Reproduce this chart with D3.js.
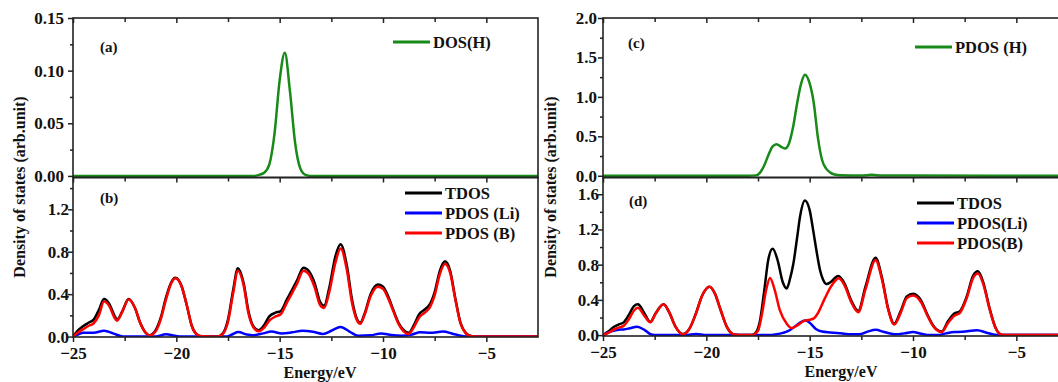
<!DOCTYPE html>
<html>
<head>
<meta charset="utf-8">
<script src="https://cdn.jsdelivr.net/npm/d3@7"></script>
<style>
  body { margin: 0; background: #fff; }
  svg { display: block; font-family: "Liberation Serif", "Times New Roman", serif; font-weight: bold; }
</style>
</head>
<body>
<div id="chart"></div>
<script>
// ---- data: [energy (eV), DOS] ----
const xTicks = [-25, -20, -15, -10, -5];
const xMinor = [-22.5, -17.5, -12.5, -7.5];

const dosH = [[-25,0],[-17,0],[-16.25,0],[-16,0.001],[-15.75,0.003],[-15.5,0.011],[-15.25,0.04],[-15,0.091],
  [-14.75,0.117],[-14.5,0.08],[-14.25,0.031],[-14,0.007],[-13.75,0.001],[-13.5,0],[-2.5,0]];

const pdosH = [[-25,0],[-18,0],[-17.6,0.005],[-17.4,0.04],[-17.2,0.13],[-17,0.26],[-16.8,0.37],[-16.6,0.40],
  [-16.4,0.37],[-16.2,0.345],[-16,0.41],[-15.8,0.62],[-15.6,0.93],[-15.4,1.18],[-15.23,1.28],[-15,1.17],
  [-14.8,0.92],[-14.6,0.48],[-14.4,0.2],[-14.2,0.09],[-14,0.04],[-13.8,0.015],[-13.5,0.005],[-12.5,0.004],
  [-12,0.012],[-11.5,0.004],[-10,0.002],[-2.5,0]];

const tdosLeft = [[-25,0],[-24.75,0.06],[-24.5,0.1],[-24.25,0.13],[-24,0.16],[-23.75,0.25],[-23.5,0.355],[-23.25,0.31],
  [-23,0.2],[-22.87,0.16],[-22.6,0.245],[-22.31,0.355],[-22,0.27],[-21.75,0.13],[-21.5,0.04],[-21.3,0.012],[-21,0.06],
  [-20.75,0.18],[-20.5,0.37],[-20.25,0.51],[-20.05,0.555],[-19.75,0.48],[-19.5,0.3],[-19.25,0.1],[-19,0.02],[-18.75,0.002],
  [-18,0],[-17.75,0.03],[-17.5,0.16],[-17.25,0.44],[-17.02,0.645],[-16.75,0.51],[-16.5,0.23],[-16.25,0.09],[-16.02,0.06],
  [-15.75,0.11],[-15.5,0.19],[-15.2,0.225],[-14.95,0.24],[-14.65,0.35],[-14.4,0.44],[-14.16,0.53],[-13.85,0.65],[-13.6,0.62],
  [-13.3,0.5],[-13.05,0.33],[-12.85,0.29],[-12.6,0.46],[-12.3,0.76],[-12.05,0.87],[-11.75,0.67],[-11.5,0.35],[-11.25,0.16],
  [-11.1,0.13],[-10.9,0.21],[-10.6,0.4],[-10.25,0.49],[-10,0.47],[-9.75,0.38],[-9.5,0.25],[-9.25,0.13],[-9,0.06],
  [-8.76,0.035],[-8.5,0.11],[-8.25,0.21],[-7.95,0.26],[-7.75,0.3],[-7.5,0.42],[-7.25,0.62],[-7,0.71],[-6.75,0.62],
  [-6.5,0.36],[-6.25,0.13],[-6,0.035],[-5.75,0.005],[-5.5,0],[-2.5,0]];

const pdosBLeft = [[-25,0],[-24.75,0.04],[-24.5,0.07],[-24.25,0.1],[-24,0.125],[-23.75,0.2],[-23.5,0.33],[-23.25,0.29],
  [-23,0.18],[-22.87,0.15],[-22.6,0.24],[-22.31,0.35],[-22,0.27],[-21.75,0.13],[-21.5,0.04],[-21.3,0.01],[-21,0.05],
  [-20.75,0.165],[-20.5,0.35],[-20.25,0.5],[-20.05,0.55],[-19.75,0.475],[-19.5,0.3],[-19.25,0.1],[-19,0.02],[-18.75,0.002],
  [-18,0],[-17.75,0.025],[-17.5,0.14],[-17.25,0.41],[-17.02,0.62],[-16.75,0.49],[-16.5,0.21],[-16.25,0.08],[-16.02,0.05],
  [-15.75,0.085],[-15.5,0.15],[-15.2,0.19],[-14.95,0.21],[-14.65,0.32],[-14.4,0.41],[-14.16,0.5],[-13.85,0.62],[-13.6,0.59],
  [-13.3,0.46],[-13.05,0.3],[-12.85,0.27],[-12.6,0.42],[-12.3,0.7],[-12.05,0.83],[-11.75,0.63],[-11.5,0.32],[-11.25,0.15],
  [-11.1,0.12],[-10.9,0.2],[-10.6,0.38],[-10.25,0.47],[-10,0.45],[-9.75,0.36],[-9.5,0.24],[-9.25,0.12],[-9,0.05],
  [-8.76,0.025],[-8.5,0.09],[-8.25,0.18],[-7.95,0.23],[-7.75,0.27],[-7.5,0.39],[-7.25,0.59],[-7,0.685],[-6.75,0.6],
  [-6.5,0.35],[-6.25,0.125],[-6,0.033],[-5.75,0.005],[-5.5,0],[-2.5,0]];

const pdosLiLeft = [[-25,0],[-24.75,0.02],[-24.5,0.035],[-24,0.035],[-23.5,0.055],[-23,0.025],[-22.7,0.005],[-22.5,0],
  [-21,0],[-20.5,0.022],[-20,0.005],[-19.7,0],[-17.6,0],[-17.3,0.02],[-17,0.042],[-16.6,0.02],[-16.3,0.012],[-15.8,0.03],
  [-15.4,0.048],[-14.9,0.03],[-14.4,0.04],[-13.9,0.055],[-13.4,0.045],[-12.9,0.025],[-12.5,0.055],[-12.05,0.09],
  [-11.6,0.045],[-11.2,0.008],[-10.6,0.012],[-10.1,0.03],[-9.6,0.015],[-9.1,0.008],[-8.6,0.02],[-8.2,0.04],[-7.7,0.035],
  [-7.1,0.048],[-6.6,0.025],[-6.1,0.003],[-5.8,0],[-2.5,0]];

const tdosRight = [[-25,0],[-24.75,0.04],[-24.5,0.09],[-24.25,0.12],[-24,0.145],[-23.75,0.23],[-23.5,0.33],[-23.31,0.35],
  [-23,0.25],[-22.71,0.15],[-22.45,0.25],[-22.07,0.35],[-21.8,0.26],[-21.5,0.1],[-21.14,0.012],[-20.8,0.08],[-20.5,0.25],
  [-20.2,0.45],[-19.85,0.55],[-19.6,0.48],[-19.3,0.28],[-19,0.09],[-18.7,0.01],[-18.4,0],[-17.8,0],[-17.6,0.03],
  [-17.4,0.17],[-17.2,0.5],[-17,0.86],[-16.79,0.98],[-16.55,0.85],[-16.3,0.6],[-16.11,0.53],[-15.95,0.64],[-15.79,0.81],
  [-15.6,1.12],[-15.47,1.34],[-15.23,1.53],[-15,1.42],[-14.83,1.19],[-14.65,0.93],[-14.5,0.74],[-14.35,0.63],[-14.18,0.58],
  [-14,0.6],[-13.62,0.67],[-13.3,0.58],[-13,0.4],[-12.65,0.275],[-12.3,0.55],[-11.81,0.88],[-11.5,0.65],[-11.2,0.3],
  [-10.91,0.13],[-10.6,0.27],[-10.3,0.44],[-9.99,0.47],[-9.6,0.39],[-9.3,0.23],[-9,0.1],[-8.62,0.04],[-8.3,0.16],
  [-8,0.245],[-7.74,0.27],[-7.4,0.44],[-7.1,0.67],[-6.86,0.725],[-6.6,0.6],[-6.3,0.31],[-6,0.08],[-5.72,0.005],
  [-5.5,0],[-2.5,0]];

const pdosBRight = [[-25,0],[-24.75,0.025],[-24.5,0.06],[-24.25,0.085],[-24,0.105],[-23.75,0.18],[-23.5,0.28],[-23.31,0.31],
  [-23,0.22],[-22.71,0.145],[-22.45,0.245],[-22.07,0.35],[-21.8,0.26],[-21.5,0.1],[-21.14,0.01],[-20.8,0.08],[-20.5,0.245],
  [-20.2,0.45],[-19.85,0.55],[-19.6,0.48],[-19.3,0.28],[-19,0.09],[-18.7,0.01],[-18.4,0],[-17.8,0],[-17.5,0.05],
  [-17.3,0.25],[-17.1,0.52],[-16.92,0.65],[-16.7,0.52],[-16.44,0.28],[-16.11,0.13],[-15.87,0.08],[-15.6,0.11],[-15.3,0.16],
  [-15,0.175],[-14.8,0.19],[-14.6,0.25],[-14.3,0.4],[-14,0.54],[-13.75,0.62],[-13.6,0.645],[-13.3,0.56],[-13,0.38],
  [-12.65,0.26],[-12.3,0.52],[-11.81,0.85],[-11.5,0.63],[-11.2,0.29],[-10.91,0.12],[-10.6,0.25],[-10.3,0.42],[-9.99,0.45],
  [-9.6,0.37],[-9.3,0.22],[-9,0.095],[-8.62,0.035],[-8.3,0.14],[-8,0.22],[-7.74,0.25],[-7.4,0.42],[-7.1,0.645],
  [-6.86,0.7],[-6.6,0.58],[-6.3,0.3],[-6,0.078],[-5.72,0.005],[-5.5,0],[-2.5,0]];

const pdosLiRight = [[-25,0],[-24.75,0.03],[-24.5,0.05],[-24.25,0.06],[-24,0.065],[-23.75,0.075],[-23.35,0.095],[-23,0.06],
  [-22.7,0.01],[-22.5,0],[-21,0],[-20.5,0.012],[-20,0],[-17,0],[-16.6,0.01],[-16.3,0.025],[-16,0.05],[-15.7,0.1],
  [-15.4,0.15],[-15.2,0.165],[-15,0.14],[-14.7,0.07],[-14.4,0.04],[-14,0.03],[-13.5,0.02],[-13,0.01],[-12.6,0.01],
  [-12.2,0.04],[-11.8,0.06],[-11.4,0.035],[-10.9,0.01],[-10.4,0.02],[-10,0.035],[-9.6,0.015],[-9.2,0],[-8.8,0],
  [-8.4,0.02],[-8,0.035],[-7.6,0.038],[-6.9,0.055],[-6.4,0.025],[-5.9,0],[-2.5,0]];

const legendLeft = ["TDOS", "PDOS (Li)", "PDOS (B)"];
const legendRight = ["TDOS", "PDOS(Li)", "PDOS(B)"];

// ---- layout ----
const W = 1058, H = 382;
const GREEN = "#178a17";
const FONT = "'Liberation Serif', 'Times New Roman', serif";
const svg = d3.select("#chart").append("svg").attr("width", W).attr("height", H);

const xLeft = d3.scaleLinear().domain([-25, -2.5]).range([73, 538]);
const xRight = d3.scaleLinear().domain([-25, -2.5]).range([603, 1068]);

const panels = [
  { id: "a", x: xLeft, top: 18, bottom: 177.5, yDomain: [-0.0015, 0.15], yTicks: [0, 0.05, 0.10, 0.15],
    yMinor: [0.025, 0.075, 0.125], fmt: d3.format(".2f"), pad: 4,
    series: [{ data: dosH, color: GREEN }], label: [100, 52],
    legend: { x: 393, y: 42, items: ["DOS(H)"], colors: [GREEN] } },
  { id: "b", x: xLeft, top: 177.5, bottom: 337, yDomain: [-0.004, 1.5], yTicks: [0, 0.4, 0.8, 1.2],
    yMinor: [0.2, 0.6, 1.0, 1.4], fmt: d3.format(".1f"), pad: -1, bottomAxis: true,
    series: [{ data: tdosLeft, color: "#000" }, { data: pdosLiLeft, color: "#0000ff" }, { data: pdosBLeft, color: "#ff0000" }],
    label: [100, 203],
    legend: { x: 405, y: 193, items: legendLeft, colors: ["#000", "#0000ff", "#ff0000"] } },
  { id: "c", x: xRight, top: 18, bottom: 177.5, yDomain: [-0.022, 2.0], yTicks: [0, 0.5, 1.0, 1.5, 2.0],
    yMinor: [0.25, 0.75, 1.25, 1.75], fmt: d3.format(".1f"), pad: 1,
    series: [{ data: pdosH, color: GREEN }], label: [628, 48],
    legend: { x: 915, y: 47, items: ["PDOS (H)"], colors: [GREEN] } },
  { id: "d", x: xRight, top: 177.5, bottom: 336, yDomain: [-0.01, 1.79], yTicks: [0, 0.4, 0.8, 1.2, 1.6],
    yMinor: [0.2, 0.6, 1.0, 1.4], fmt: d3.format(".1f"), pad: -1, bottomAxis: true,
    series: [{ data: tdosRight, color: "#000" }, { data: pdosLiRight, color: "#0000ff" }, { data: pdosBRight, color: "#ff0000" }],
    label: [629, 206],
    legend: { x: 917, y: 203, items: legendRight, colors: ["#000", "#0000ff", "#ff0000"] } }
];

function styleAxis(g) {
  g.select(".domain").remove();
  g.selectAll("line").attr("stroke", "#222").attr("stroke-width", 1.5);
  g.selectAll("text").attr("fill", "#111").attr("font-size", 17)
    .attr("font-family", FONT).attr("font-weight", "bold");
}

panels.forEach(p => {
  const x = p.x;
  const [x0, x1] = x.range();
  const y = d3.scaleLinear().domain(p.yDomain).range([p.bottom, p.top]);
  const g = svg.append("g").attr("class", "panel-" + p.id);

  g.append("clipPath").attr("id", "clip-" + p.id)
    .append("rect").attr("x", x0).attr("y", p.top).attr("width", x1 - x0).attr("height", p.bottom - p.top);

  const line = d3.line().x(d => x(d[0])).y(d => y(d[1])).curve(d3.curveMonotoneX);
  g.append("g").attr("clip-path", `url(#clip-${p.id})`)
    .selectAll("path").data(p.series).join("path")
    .attr("d", d => line(d.data))
    .attr("fill", "none")
    .attr("stroke", d => d.color)
    .attr("stroke-width", 2.5)
    .attr("stroke-linejoin", "round");

  // y axis, ticks pointing out
  g.append("g").attr("transform", `translate(${x0},0)`)
    .call(d3.axisLeft(y).tickValues(p.yTicks).tickFormat(p.fmt).tickSize(5).tickPadding(p.pad))
    .call(styleAxis);
  g.append("g").attr("transform", `translate(${x0},0)`)
    .call(d3.axisLeft(y).tickValues(p.yMinor).tickFormat("").tickSize(3))
    .call(styleAxis);

  // x ticks on the top edge, pointing down
  g.append("g").attr("transform", `translate(0,${p.top})`)
    .call(d3.axisBottom(x).tickValues(xTicks).tickFormat("").tickSize(5))
    .call(styleAxis);
  g.append("g").attr("transform", `translate(0,${p.top})`)
    .call(d3.axisBottom(x).tickValues(xMinor).tickFormat("").tickSize(4))
    .call(styleAxis);

  if (p.bottomAxis) {
    g.append("g").attr("transform", `translate(0,${p.bottom})`)
      .call(d3.axisBottom(x).tickValues(xTicks).tickFormat(d3.format("d")).tickSize(5).tickPadding(5))
      .call(styleAxis);
    g.append("g").attr("transform", `translate(0,${p.bottom})`)
      .call(d3.axisBottom(x).tickValues(xMinor).tickFormat("").tickSize(4))
      .call(styleAxis);
  }

  // frame
  g.append("rect").attr("x", x0).attr("y", p.top).attr("width", x1 - x0).attr("height", p.bottom - p.top)
    .attr("fill", "none").attr("stroke", "#222").attr("stroke-width", 1.6);

  g.append("text").attr("x", p.label[0]).attr("y", p.label[1])
    .attr("font-size", 15).attr("fill", "#111").text(`(${p.id})`);

  const lg = g.append("g");
  p.legend.items.forEach((name, i) => {
    const ly = p.legend.y + i * 20;
    lg.append("line").attr("x1", p.legend.x).attr("x2", p.legend.x + 37)
      .attr("y1", ly).attr("y2", ly)
      .attr("stroke", p.legend.colors[i]).attr("stroke-width", 2.8);
    lg.append("text").attr("x", p.legend.x + 40).attr("y", ly).attr("dy", "0.35em")
      .attr("font-size", 16.5).attr("fill", "#111").text(name);
  });
});

// axis titles
[[320, 25, 377.5], [841, 556, 377]].forEach(([cx, ty, by]) => {
  svg.append("text").attr("x", cx).attr("y", by)
    .attr("text-anchor", "middle").attr("font-size", 16).attr("fill", "#111").text("Energy/eV");
  svg.append("text").attr("transform", `translate(${ty},187) rotate(-90)`)
    .attr("text-anchor", "middle").attr("font-size", 16).attr("fill", "#111")
    .text("Density of states (arb.unit)");
});
</script>
</body>
</html>
